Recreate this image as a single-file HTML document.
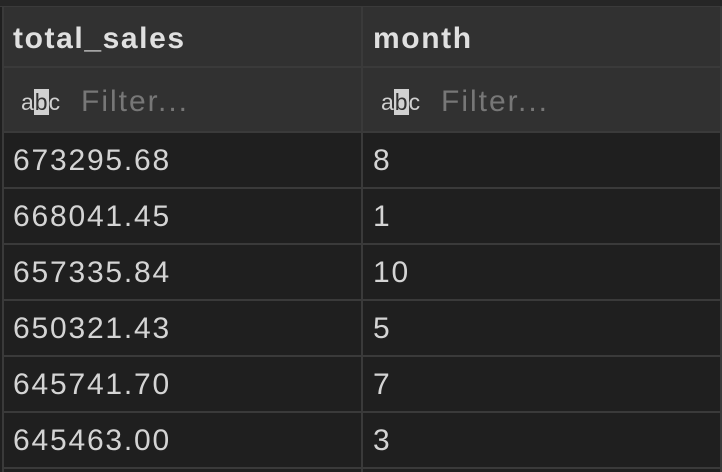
<!DOCTYPE html>
<html><head><meta charset="utf-8"><style>
*{margin:0;padding:0;box-sizing:border-box}
body{width:722px;height:472px;background:#1f1f1f;position:relative;overflow:hidden;font-family:"Liberation Sans",sans-serif}
.top{position:absolute;left:0;top:0;width:722px;height:7px;background:#262626;border-bottom:1px solid #3a3a3a}
.hdr{position:absolute;left:3px;top:7px;width:718px;height:125px;background:#313131}
.vl{position:absolute;top:7px;width:2px;height:465px;background:#3a3a3a}
.hl{position:absolute;left:3px;width:718px;height:2px;background:#3a3a3a}
.t{position:absolute;font-size:30px;color:#d4d4d4;line-height:30px;letter-spacing:1.8px;white-space:nowrap}
.h{font-weight:bold;color:#e0e0e0;letter-spacing:1.6px}
.f{color:#777;letter-spacing:2px}
.abc{position:absolute;font-size:23px;color:#d0d0d0;line-height:26px}
.abc b{font-weight:normal;background:#d0d0d0;color:#313131;padding:0 1px}
</style></head><body>
<div class="top"></div>
<div class="hdr"></div>
<div class="vl" style="left:2px"></div>
<div class="vl" style="left:361px"></div>
<div class="vl" style="left:720px"></div>
<div class="hl" style="top:66px"></div>
<div class="hl" style="top:131px"></div>
<div class="hl" style="top:187px"></div>
<div class="hl" style="top:243px"></div>
<div class="hl" style="top:299px"></div>
<div class="hl" style="top:355px"></div>
<div class="hl" style="top:411px"></div>
<div class="hl" style="top:467px"></div>

<div class="t h" style="left:13px;top:24px">total_sales</div>
<div class="t h" style="left:373px;top:24px">month</div>

<div class="abc" style="left:21px;top:89px">a<b>b</b>c</div>
<div class="t f" style="left:81px;top:87px">Filter...</div>
<div class="abc" style="left:381px;top:89px">a<b>b</b>c</div>
<div class="t f" style="left:441px;top:87px">Filter...</div>

<div class="t" style="left:13px;top:146px">673295.68</div>
<div class="t" style="left:373px;top:146px">8</div>
<div class="t" style="left:13px;top:202px">668041.45</div>
<div class="t" style="left:373px;top:202px">1</div>
<div class="t" style="left:13px;top:258px">657335.84</div>
<div class="t" style="left:373px;top:258px">10</div>
<div class="t" style="left:13px;top:314px">650321.43</div>
<div class="t" style="left:373px;top:314px">5</div>
<div class="t" style="left:13px;top:370px">645741.70</div>
<div class="t" style="left:373px;top:370px">7</div>
<div class="t" style="left:13px;top:426px">645463.00</div>
<div class="t" style="left:373px;top:426px">3</div>
</body></html>
